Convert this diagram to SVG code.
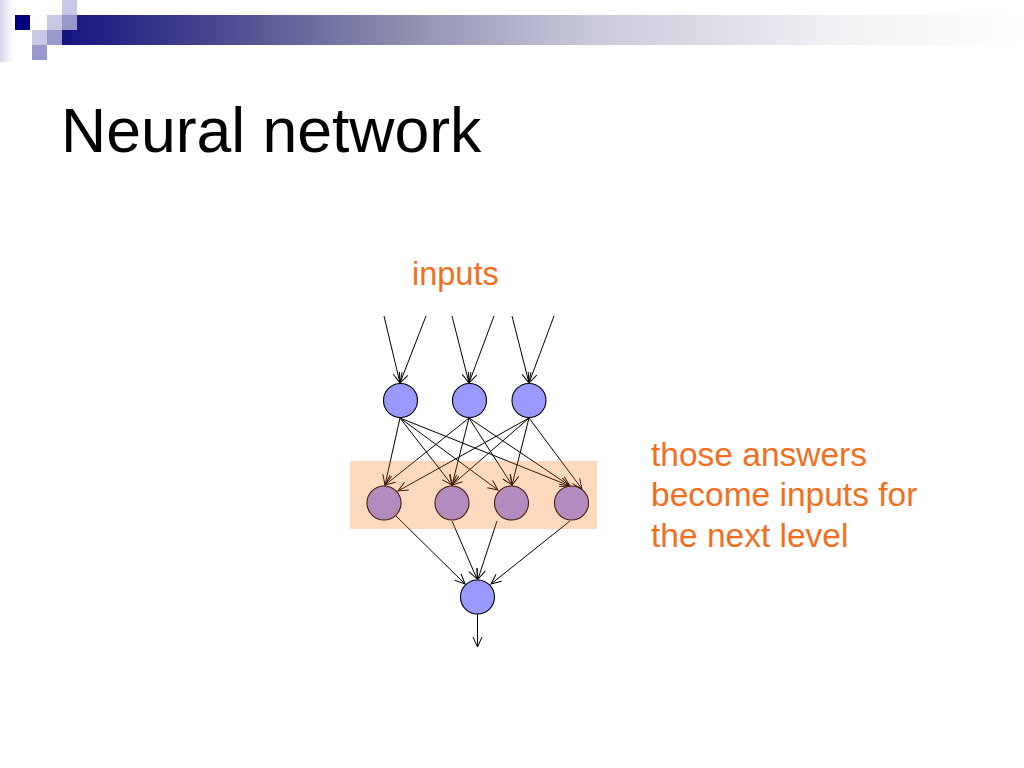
<svg xmlns="http://www.w3.org/2000/svg" width="1024" height="768" viewBox="0 0 1024 768">
<defs>
<linearGradient id="bar" x1="62" y1="0" x2="1024" y2="0" gradientUnits="userSpaceOnUse">
<stop offset="0" stop-color="#141480"/>
<stop offset="0.15" stop-color="#45458e"/>
<stop offset="0.35" stop-color="#8c8cae"/>
<stop offset="0.55" stop-color="#c9c9dc"/>
<stop offset="0.8" stop-color="#f0f0f4"/>
<stop offset="1" stop-color="#ffffff"/>
</linearGradient>
<linearGradient id="edge" x1="0" y1="0" x2="1" y2="0">
<stop offset="0" stop-color="#d6d6ec"/>
<stop offset="1" stop-color="#ffffff"/>
</linearGradient>
<marker id="arr" markerWidth="12" markerHeight="12" refX="10" refY="5" orient="auto" markerUnits="userSpaceOnUse" overflow="visible">
<path d="M0,0.5 L10,5 L0,9.5" fill="none" stroke="#000" stroke-width="1"/>
</marker>
<style>
.t{font-family:"Liberation Sans",Arial,sans-serif}
.or{fill:#f36f1f}
.ln{stroke:#000;stroke-width:1;fill:none;marker-end:url(#arr)}
.nb{fill:#9999ff;stroke:#000;stroke-width:1.1}
</style>
</defs>
<rect width="1024" height="768" fill="#fff"/>
<g id="header">
<rect x="0" y="0" width="14" height="62" fill="url(#edge)"/>
<rect x="62" y="15" width="962" height="30" fill="url(#bar)"/>
<rect x="15" y="15" width="15" height="15" fill="#000080"/>
<rect x="62" y="0" width="15" height="15" fill="#c8c8e4"/>
<rect x="47" y="15" width="15" height="15" fill="#c8c8e4"/>
<rect x="62" y="15" width="15" height="15" fill="#9898cc"/>
<rect x="32" y="30" width="15" height="15" fill="#c8c8e4"/>
<rect x="47" y="30" width="15" height="15" fill="#9898cc"/>
<rect x="32" y="45" width="15" height="15" fill="#9898cc"/>
</g>
<text id="title" class="t" x="61" y="152" font-size="62.5" fill="#000">Neural network</text>
<text id="inputs" class="t or" x="412" y="285" font-size="32.5">inputs</text>
<g id="note" class="t or" font-size="33.5">
<text x="651" y="466">those answers</text>
<text x="651" y="506">become inputs for</text>
<text x="651" y="547">the next level</text>
</g>
<g id="connectors">
<line class="ln" x1="384" y1="316" x2="400" y2="383"/>
<line class="ln" x1="426" y1="316" x2="400" y2="383"/>
<line class="ln" x1="452" y1="316" x2="469" y2="383"/>
<line class="ln" x1="494" y1="316" x2="469" y2="383"/>
<line class="ln" x1="512" y1="316" x2="529" y2="383"/>
<line class="ln" x1="554" y1="316" x2="529" y2="383"/>
<line class="ln" x1="400" y1="418" x2="385" y2="485"/>
<line class="ln" x1="400" y1="418" x2="452" y2="485"/>
<line class="ln" x1="400" y1="418" x2="498" y2="490"/>
<line class="ln" x1="400" y1="418" x2="570" y2="486"/>
<line class="ln" x1="469" y1="418" x2="385" y2="485"/>
<line class="ln" x1="469" y1="418" x2="452" y2="485"/>
<line class="ln" x1="469" y1="418" x2="512" y2="485"/>
<line class="ln" x1="469" y1="418" x2="570" y2="486"/>
<line class="ln" x1="529" y1="418" x2="398" y2="491"/>
<line class="ln" x1="529" y1="418" x2="452" y2="485"/>
<line class="ln" x1="529" y1="418" x2="512" y2="485"/>
<line class="ln" x1="529" y1="418" x2="582" y2="489"/>
<line class="ln" x1="396" y1="516" x2="465" y2="584"/>
<line class="ln" x1="452" y1="521" x2="477" y2="579"/>
<line class="ln" x1="497" y1="521" x2="478" y2="579"/>
<line class="ln" x1="570" y1="521" x2="491" y2="584"/>
<line class="ln" x1="477.5" y1="614" x2="477.5" y2="647"/>
</g>
<g id="n-top1"><circle class="nb" cx="400.5" cy="400.5" r="17"/></g>
<g id="n-top2"><circle class="nb" cx="469.5" cy="400.5" r="17"/></g>
<g id="n-top3"><circle class="nb" cx="529" cy="400.5" r="17"/></g>
<g id="n-mid1"><circle class="nb" cx="384" cy="503" r="17"/></g>
<g id="n-mid2"><circle class="nb" cx="452" cy="503" r="17"/></g>
<g id="n-mid3"><circle class="nb" cx="511.5" cy="503" r="17"/></g>
<g id="n-mid4"><circle class="nb" cx="571.5" cy="503" r="17"/></g>
<g id="n-out"><circle class="nb" cx="477.5" cy="597" r="17"/></g>
<g id="layer-highlight"><rect x="350" y="461" width="247" height="68" fill="#ff6600" fill-opacity="0.25"/></g>
</svg>
